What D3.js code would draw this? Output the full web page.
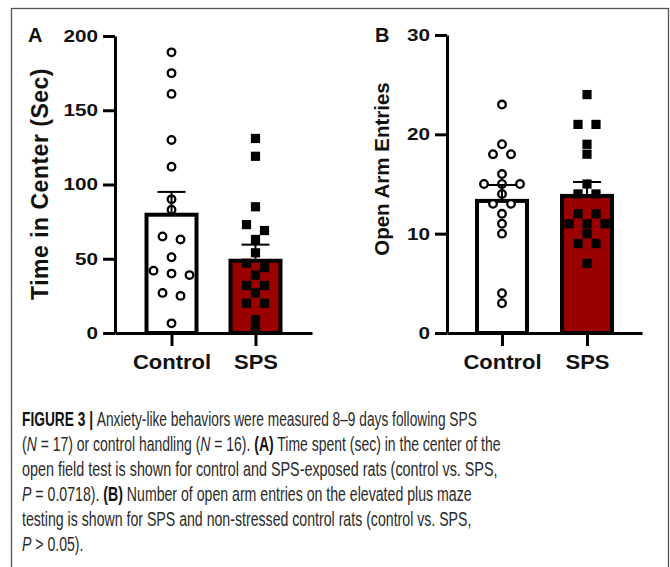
<!DOCTYPE html>
<html><head><meta charset="utf-8">
<script src="https://cdn.jsdelivr.net/npm/d3@7"></script>
<style>body{margin:0;background:#fff}svg{display:block}</style>
</head><body><svg id="c" width="670" height="567"></svg>
<script>
// ---------- data ----------
const categories = ["Control", "SPS"];
const timeTicks = [0, 50, 100, 150, 200];
const entryTicks = [0, 10, 20, 30];
const timeMeans = [81, 50];
const timeSEM = [14, 9.5];
const timeControl = [189, 175, 161, 130, 112, 90, 83, 65, 63, 51, 42, 40, 39, 27, 25, 6.5];
const timeSPS = [131, 119, 85, 73, 69, 63, 54, 47, 44, 39, 32, 32, 27, 20, 20, 9, 3];
const entryMeans = [13.5, 14.0];
const entrySEM = [1.4, 1.2];
const entryControl = [23, 19, 18, 18, 16, 15, 15, 15, 14, 13, 13, 12, 11, 10, 4, 3];
const entrySPS = [24, 21, 21, 19, 18, 15, 14, 14, 12, 12, 11, 11, 11, 10, 9, 9, 7];
const captionLines = [
  [["FIGURE 3 | ", "b"], ["Anxiety-like behaviors were measured 8–9 days following SPS", ""]],
  [["(", ""], ["N", "i"], [" = 17) or control handling (", ""], ["N", "i"], [" = 16). ", ""], ["(A)", "b"], [" Time spent (sec) in the center of the", ""]],
  [["open field test is shown for control and SPS-exposed rats (control vs. SPS,", ""]],
  [["P", "i"], [" = 0.0718). ", ""], ["(B)", "b"], [" Number of open arm entries on the elevated plus maze", ""]],
  [["testing is shown for SPS and non-stressed control rats (control vs. SPS,", ""]],
  [["P", "i"], [" > 0.05).", ""]]
];

// ---------- layout ----------
const svg = d3.select("#c");
const RED = "#9a0000";
const FONT = "'Liberation Sans', Arial, Helvetica, sans-serif";

svg.append("rect").attr("x", 11.5).attr("y", 8.5).attr("width", 657).attr("height", 640)
  .attr("fill", "none").attr("stroke", "#555").attr("stroke-width", 1.3);

function swarm(vals, y, spacing, thresh) {
  const pts = vals.map(v => ({ v, py: y(v) })).sort((a, b) => a.py - b.py);
  const rows = [];
  pts.forEach(p => {
    const r = rows[rows.length - 1];
    if (r && p.py - r[0].py < thresh) r.push(p); else rows.push([p]);
  });
  rows.forEach(r => r.forEach((p, i) => p.dx = (i - (r.length - 1) / 2) * spacing));
  return pts;
}

function panel(c) {
  const g = svg.append("g");
  const y = d3.scaleLinear().domain([0, c.max]).range([c.bottom, c.top]);
  const x = d3.scalePoint().domain(categories).range([c.left, c.right]).padding(c.pad);

  // bars
  const bw = 50;
  g.selectAll("rect.bar").data(categories).join("rect")
    .attr("x", d => x(d) - bw / 2).attr("y", (d, i) => y(c.means[i]) + 2)
    .attr("width", bw).attr("height", (d, i) => c.bottom - y(c.means[i]) - 2)
    .attr("fill", (d, i) => i === 0 ? "#fff" : RED)
    .attr("stroke", "#000").attr("stroke-width", 4);

  // points
  const groups = [c.ctrl, c.sps];
  groups.forEach((vals, gi) => {
    const pts = swarm(vals, y, 18, 7);
    const cx = x(categories[gi]);
    if (gi === 0) {
      g.selectAll(null).data(pts).join("circle")
        .attr("cx", d => cx + d.dx).attr("cy", d => d.py).attr("r", 3.8)
        .attr("fill", "#fff").attr("stroke", "#000").attr("stroke-width", 2.3);
    } else {
      g.selectAll(null).data(pts).join("rect")
        .attr("x", d => cx + d.dx - 4.6).attr("y", d => d.py - 4.6)
        .attr("width", 9.2).attr("height", 9.2).attr("fill", "#000");
    }
  });

  // error bars (upper only)
  categories.forEach((cat, i) => {
    const cx = x(cat), y0 = y(c.means[i]), y1 = y(c.means[i] + c.sems[i]);
    g.append("line").attr("x1", cx).attr("x2", cx).attr("y1", y0).attr("y2", y1)
      .attr("stroke", "#000").attr("stroke-width", 2);
    g.append("line").attr("x1", cx - 14).attr("x2", cx + 14).attr("y1", y1).attr("y2", y1)
      .attr("stroke", "#000").attr("stroke-width", 2);
  });

  // axes
  const ya = g.append("g").attr("transform", `translate(${c.left},0)`)
    .call(d3.axisLeft(y).tickValues(c.ticks).tickSize(12).tickSizeOuter(0).tickPadding(5));
  const xa = g.append("g").attr("transform", `translate(0,${c.bottom})`)
    .call(d3.axisBottom(x).tickSize(13).tickSizeOuter(0).tickPadding(9));
  [ya, xa].forEach(a => {
    a.select(".domain").attr("stroke", "#000").attr("stroke-width", 3);
    a.selectAll(".tick line").attr("stroke", "#000").attr("stroke-width", 3);
  });
  const tsx = 1.22;
  ya.selectAll("text").attr("font-family", FONT).attr("font-weight", "bold")
    .attr("font-size", 17).attr("fill", "#111")
    .attr("x", -17 / tsx).attr("transform", `scale(${tsx},1)`);
  xa.selectAll("text").attr("font-family", FONT).attr("font-weight", "bold")
    .attr("font-size", 20).attr("fill", "#111").attr("transform", "scale(1.1,1)");

  // axis title
  g.append("text").attr("transform", `translate(${c.titleX},${c.titleY}) rotate(-90)`)
    .attr("text-anchor", "middle").attr("font-family", FONT).attr("font-weight", "bold")
    .attr("font-size", c.titleSize).attr("letter-spacing", c.titleLS).attr("fill", "#111")
    .text(c.title);
  // panel letter
  g.append("text").attr("x", c.letterX).attr("y", 42).attr("font-family", FONT)
    .attr("font-weight", "bold").attr("font-size", 20).attr("fill", "#111").text(c.letter);
}

panel({ left: 115, right: 312, pad: 0.673, top: 36, bottom: 333, max: 200, ticks: timeTicks,
  means: timeMeans, sems: timeSEM, ctrl: timeControl, sps: timeSPS,
  title: "Time in Center (Sec)", titleX: 48, titleY: 184, titleSize: 23, titleLS: 0.5,
  letter: "A", letterX: 28 });
panel({ left: 447, right: 642, pad: 0.647, top: 35, bottom: 333, max: 30, ticks: entryTicks,
  means: entryMeans, sems: entrySEM, ctrl: entryControl, sps: entrySPS,
  title: "Open Arm Entries", titleX: 389, titleY: 169, titleSize: 20.5, titleLS: 0,
  letter: "B", letterX: 375 });

// ---------- caption ----------
const capTargets = [455, 479, 476, 450, 450, null];
const scales = [];
captionLines.forEach((segs, li) => {
  const t = svg.append("text").attr("font-family", "'Liberation Sans Narrow', 'Arial Narrow', 'Liberation Sans', sans-serif")
    .attr("font-size", 19.5).attr("fill", "#2a2a2a");
  segs.forEach(([s, st]) => {
    t.append("tspan").text(s)
      .attr("font-weight", st === "b" ? "bold" : null)
      .attr("font-style", st === "i" ? "italic" : null)
      .attr("fill", st === "b" ? "#111" : null);
  });
  const w = t.node().getComputedTextLength();
  const target = capTargets[li];
  const sx = target ? target / w : d3.mean(scales);
  if (target) scales.push(sx);
  t.attr("transform", `translate(22,${426 + 25 * li}) scale(${sx},1)`);
});
</script></body></html>
